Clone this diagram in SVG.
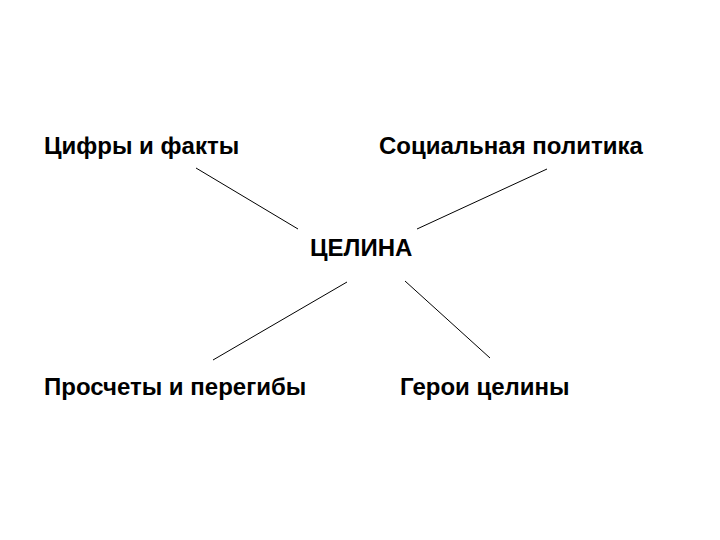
<svg xmlns="http://www.w3.org/2000/svg" width="720" height="540" viewBox="0 0 720 540">
<style>
text{font-family:"Liberation Sans",Arial,sans-serif;font-weight:bold;font-size:24px;fill:#000}
.c line{stroke:#000;stroke-width:1}
</style>
<rect width="720" height="540" fill="#fff"/>
<g class="c" id="connectors">
<line x1="196" y1="168" x2="298" y2="229"/>
<line x1="547" y1="169" x2="417" y2="229"/>
<line x1="347" y1="282" x2="213" y2="360"/>
<line x1="405" y1="281" x2="490" y2="358"/>
</g>
<g id="n1"><text x="44" y="154">Цифры и факты</text></g>
<g id="n2"><text x="379" y="154">Социальная политика</text></g>
<g id="center"><text x="310" y="256">ЦЕЛИНА</text></g>
<g id="n3"><text x="44" y="395">Просчеты и перегибы</text></g>
<g id="n4"><text x="400" y="395">Герои целины</text></g>
</svg>
